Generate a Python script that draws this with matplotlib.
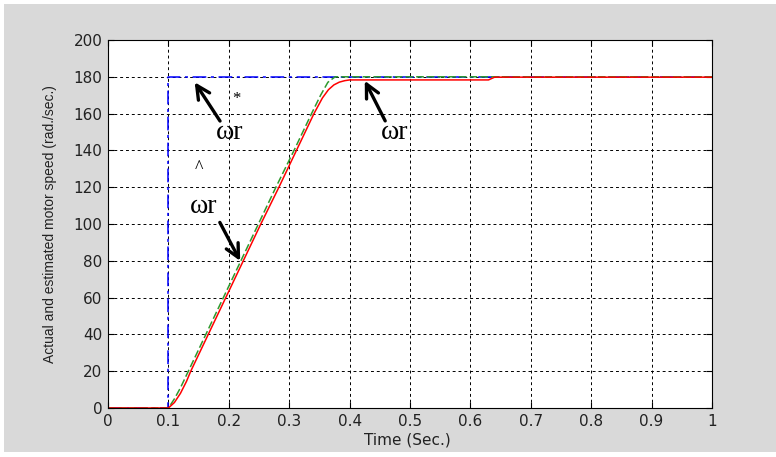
import matplotlib
matplotlib.use("Agg")
import matplotlib.pyplot as plt
from matplotlib.patches import Rectangle

# Reference speed (step at 0.1 s)
t_ref = [0, 0.1, 0.1, 1.0]
w_ref = [0, 0, 180, 180]

# Actual speed
t_act = [0, 0.1, 0.11, 0.12, 0.133, 0.162, 0.191, 0.22, 0.249, 0.278, 0.308, 0.337,
         0.352, 0.364, 0.376, 1.0]
w_act = [0, 0, 5, 11, 20, 40, 60, 80, 100, 120, 140, 160,
         170, 177, 180, 180]

# Estimated speed
t_est = [0, 0.1, 0.11, 0.12, 0.13, 0.137, 0.166, 0.195, 0.224, 0.253, 0.283, 0.312, 0.341,
         0.355, 0.365, 0.374, 0.383, 0.392, 0.40, 0.63, 0.64, 1.0]
w_est = [0, 0, 3, 8, 14.5, 20, 40, 60, 80, 100, 120, 140, 160,
         168.5, 173, 175.6, 177.1, 177.9, 178.3, 178.3, 179.8, 179.8]

xticks = [0, 0.1, 0.2, 0.3, 0.4, 0.5, 0.6, 0.7, 0.8, 0.9, 1]
xticklabels = ["0", "0.1", "0.2", "0.3", "0.4", "0.5", "0.6", "0.7", "0.8", "0.9", "1"]
yticks = [0, 20, 40, 60, 80, 100, 120, 140, 160, 180, 200]

plt.rcParams["font.family"] = ["DejaVu Sans"]

fig = plt.figure(figsize=(7.76, 4.57), dpi=100, facecolor="white")
fig.patches.append(Rectangle((4 / 776, 5 / 457), 1, 1 - 9 / 457,
                             transform=fig.transFigure, facecolor="#d9d9d9",
                             edgecolor="none", zorder=-10))

ax = fig.add_axes([108 / 776, 49 / 457, 604 / 776, 368 / 457])
ax.set_facecolor("white")

ax.plot(t_ref, w_ref, color="blue", linestyle=(0, (9, 3, 2, 3)), lw=1.1)
ax.plot(t_act, w_act, color="#2e9a2e", linestyle=(0, (5, 2)), lw=1.1)
ax.plot(t_est, w_est, color="red", lw=1.1)

ax.set_xlim(0, 1)
ax.set_ylim(0, 200)
ax.set_xticks(xticks)
ax.set_xticklabels(xticklabels)
ax.set_yticks(yticks)
ax.tick_params(direction="in", top=True, right=True, length=4, labelsize=11, pad=4,
               labelcolor="#222222")
ax.grid(True, color="black", linestyle=(0, (3, 3)), lw=0.7)
for s in ax.spines.values():
    s.set_linewidth(0.8)

ax.set_xlabel("Time (Sec.)", fontsize=11, va="center", color="#222222")
ax.xaxis.set_label_coords(0.496, -0.087)
ax.set_ylabel("Actual and estimated motor speed (rad./sec.)", fontsize=10,
              family="Liberation Sans", va="center", color="#222222")
ax.yaxis.set_label_coords(-0.096, 0.5)

arrow = dict(arrowstyle="->", lw=2.4, color="black", mutation_scale=24)
serif = dict(family="Liberation Serif", fontsize=20, ha="center", va="center")

ax.annotate("", xy=(0.141, 178.3), xytext=(0.188, 154.7), arrowprops=arrow)
ax.text(0.202, 149.5, "ωr", **serif)
ax.text(0.213, 168, "*", family="Liberation Serif", fontsize=12, ha="center", va="center")

ax.annotate("", xy=(0.423, 179.2), xytext=(0.461, 154.7), arrowprops=arrow)
ax.text(0.475, 149.5, "ωr", **serif)

ax.text(0.151, 130, "^", family="Liberation Serif", fontsize=13, ha="center", va="center")
ax.text(0.159, 109.5, "ωr", **serif)
ax.annotate("", xy=(0.221, 78.6), xytext=(0.183, 102.2), arrowprops=arrow)

fig.savefig("out.png", dpi=100, facecolor=fig.get_facecolor())
